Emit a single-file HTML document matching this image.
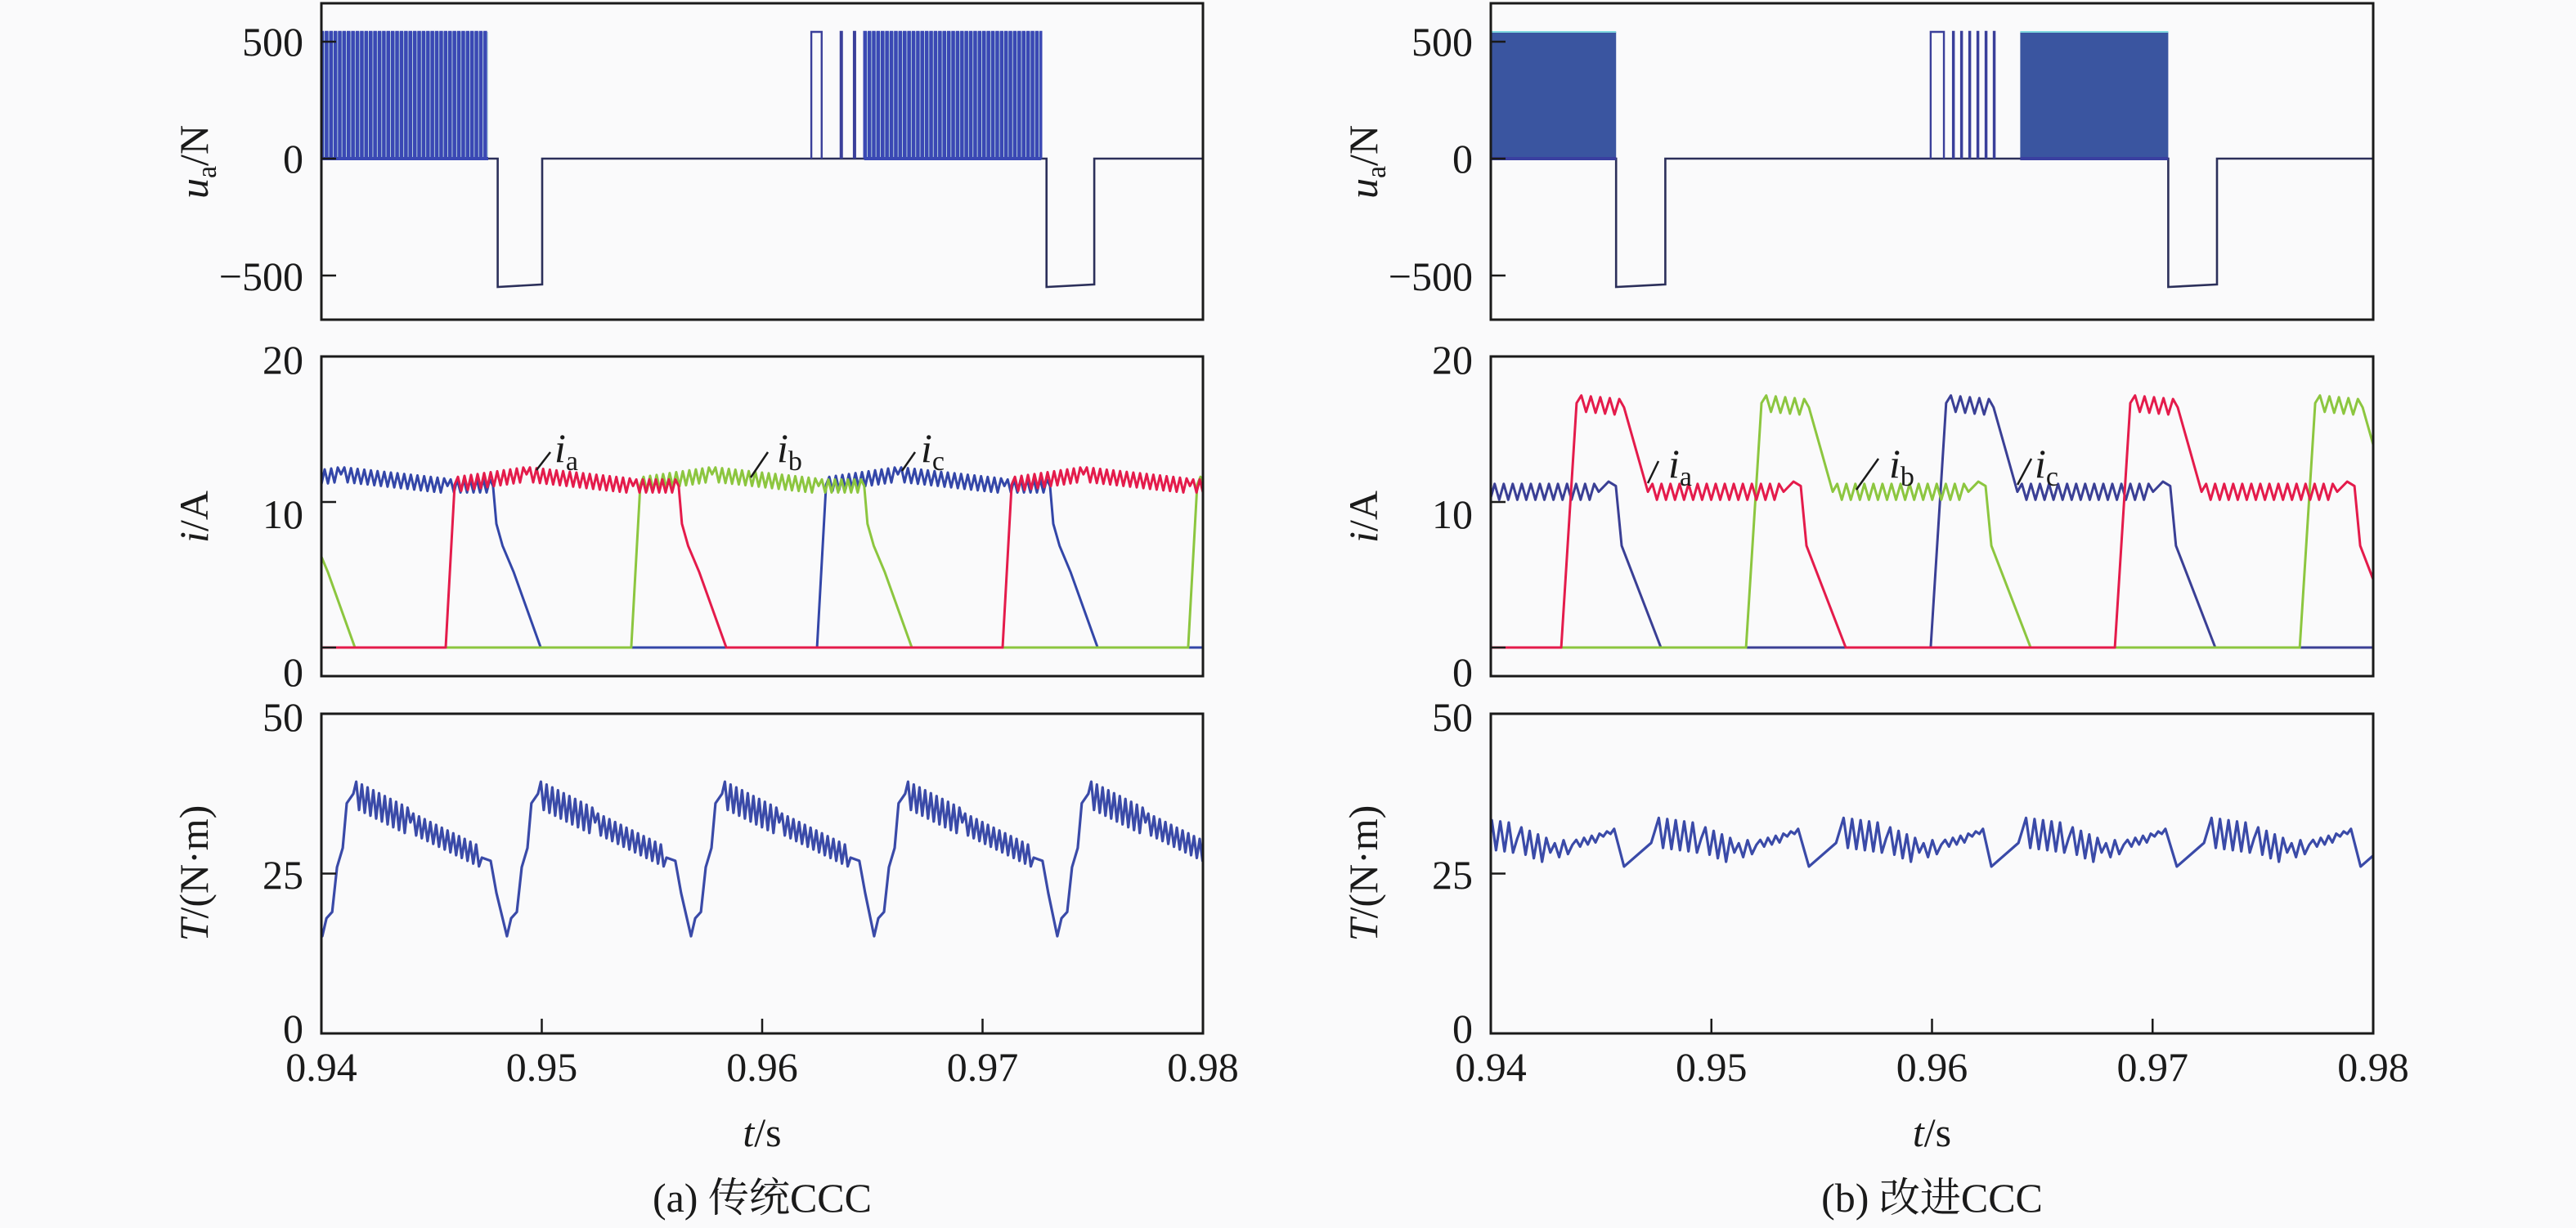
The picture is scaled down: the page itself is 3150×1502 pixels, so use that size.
<!DOCTYPE html>
<html><head><meta charset="utf-8"><style>
html,body{margin:0;padding:0;background:#fafafb;}
svg{display:block;}
text{font-family:"Liberation Serif","Times New Roman","Tinos","Noto Serif CJK SC",serif;}
</style></head><body>
<svg id="fig" width="3150" height="1502" viewBox="0 0 3150 1502" xmlns="http://www.w3.org/2000/svg">
<rect x="0" y="0" width="3150" height="1502" fill="#fafafb"/>
<g id="root"></g>
</svg>
<script>
// ---------------- data ----------------
const xTicks = [0.94, 0.95, 0.96, 0.97, 0.98];
const xTickLabels = ["0.94", "0.95", "0.96", "0.97", "0.98"];
const uTicks = [500, 0, -500];
const uTickLabels = ["500", "0", "\u2212500"];
const iTicks = [20, 10, 0];
const iTickLabels = ["20", "10", "0"];
const tTicks = [50, 25, 0];
const tTickLabels = ["50", "25", "0"];

// voltage u_a, left (traditional CCC)
const uHighL = 542;
const uBurstL = [[0.9400, 0.94757], [0.96463, 0.97266]];
const uPulseL = [[0.96223, 0.96270], [0.96356, 0.96362], [0.96416, 0.96422]];
const uNegL = [[0.94800, 0.95002, -549, -538], [0.97290, 0.97507, -549, -538]];
// voltage u_a, right (improved CCC)
const uHighR = 542;
const uBlockR = [[0.9400, 0.94568], [0.96400, 0.97071]];
const uPulseR = [[0.95994, 0.96054], [0.96095, 0.96099], [0.96132, 0.96136], [0.96169, 0.96173], [0.96206, 0.96210], [0.96243, 0.96247], [0.96280, 0.96284]];
const uNegR = [[0.94568, 0.94791, -549, -538], [0.97071, 0.97292, -549, -538]];

// currents, left
const riseA_L = [0.92037, 0.94564, 0.97091];
const riseB_L = [0.92879, 0.95406, 0.97933];
const riseC_L = [0.91195, 0.93722, 0.96249];
const curShT_L = [0, 0.41, 3.67, 8.5, 10.57, 10.72, 11.0, 11.5, 12.73];
const curShV_L = [0, 11.2, 11.9, 11.1, 11.1, 8.5, 7, 5.2, 0];
const curRip_L = [0, 0.5, 0.5, 0.45, 0, 0, 0, 0];
// currents, right
const riseA_R = [0.91809, 0.94319, 0.96829];
const riseB_R = [0.92647, 0.95157, 0.97667];
const riseC_R = [0.93481, 0.95994, 0.98504];
const curShT_R = [0, 0.70, 2.85, 3.41, 3.93, 10.08, 10.53, 10.86, 11.12, 12.9];
const curShV_R = [0, 16.8, 16.5, 13.5, 10.7, 10.7, 11.4, 11.1, 7, 0];
const curRip_R = [0, 0.55, 0, 0, 0.55, 0, 0, 0, 0];

// torque, left
const tqMin_L = [0.93171, 0.94004, 0.94842, 0.95677, 0.96508, 0.97339, 0.98172];
const tqT_L = [0, 0.19, 0.45, 0.67, 0.93, 1.11, 1.41, 4.0, 7.24, 7.64, 7.9];
const tqV_L = [15.2, 18, 19, 26, 29, 36, 37.5, 33, 27.5, 27, 22];
const tqRip_L = [0, 0, 0, 0, 0, 0, 2.1, 1.6, 0, 0];
// torque, right
const tqMin_R = [0.93770, 0.94604, 0.95442, 0.96269, 0.97110, 0.97943, 0.98778];
const tqT_R = [0, 1.23, 1.38, 3.5, 5.0, 6.0, 7.4, 7.89];
const tqV_R = [26.1, 29.8, 31.5, 30.5, 28.3, 29.5, 30.8, 32];
const tqRip_R = [0, 0, 2.3, 2.0, 1.2, 0.6, 0.4];

// ---------------- layout ----------------
const NS = "http://www.w3.org/2000/svg";
const root = document.getElementById("root");
const PANELS = [
  {side: "left", x0: 393, x1: 1471},
  {side: "right", x0: 1823, x1: 2902}
];
const ROWS = {
  u: {y0: 4, y1: 391, f: v => 194 - v * 0.286},
  i: {y0: 436, y1: 827, f: v => 792 - v * 17.8},
  T: {y0: 873, y1: 1264, f: v => 1264 - v * 7.82}
};
function mk(tag, attrs, parent) {
  const e = document.createElementNS(NS, tag);
  for (const k in attrs) e.setAttribute(k, attrs[k]);
  (parent || root).appendChild(e);
  return e;
}
function sxFn(p) { return t => p.x0 + (t - 0.94) / 0.04 * (p.x1 - p.x0); }
function toPath(pts, sx, sy) {
  return pts.map((q, k) => (k ? "L" : "M") + sx(q[0]).toFixed(1) + " " + sy(q[1]).toFixed(1)).join("");
}
function shapePts(rise, shT, shV, rip, period) {
  const out = [];
  for (let i = 0; i < shT.length - 1; i++) {
    const t0 = rise + shT[i] / 1000, t1 = rise + shT[i + 1] / 1000;
    out.push([t0, shV[i]]);
    const A = rip[i] || 0;
    if (A > 0) {
      const n = Math.max(2, Math.round((t1 - t0) / (period / 2)));
      for (let k = 1; k < n; k++) {
        const fr = k / n;
        const base = shV[i] + (shV[i + 1] - shV[i]) * fr;
        out.push([t0 + (t1 - t0) * fr, base + (k % 2 ? A : -A)]);
      }
    }
  }
  out.push([rise + shT[shT.length - 1] / 1000, shV[shV.length - 1]]);
  return out;
}

PANELS.forEach((p, pi) => {
  const sx = sxFn(p);
  const side = p.side;
  const g = mk("g", {});
  
  
  Object.keys(ROWS).forEach(r => {
    const R = ROWS[r];
    const cp = mk("clipPath", {id: "cp-" + side + "-" + r}, g);
    mk("rect", {x: p.x0, y: R.y0, width: p.x1 - p.x0, height: R.y1 - R.y0}, cp);
  });

  // ---------- voltage ----------
  const R = ROWS.u;
  const gu = mk("g", {"clip-path": "url(#cp-" + side + "-u)"}, g);
  
  
  const uNeg = side === "left" ? uNegL : uNegR;
  const uPulse = side === "left" ? uPulseL : uPulseR;
  const H = side === "left" ? uHighL : uHighR;
  let pts = [[0.939, 0]];
  uNeg.forEach(n => { pts.push([n[0], 0], [n[0], n[2]], [n[1], n[3]], [n[1], 0]); });
  pts.push([0.981, 0]);
  const base = mk("path", {d: toPath(pts, sx, R.f), fill: "none", stroke: "#2b2f5a", "stroke-width": 2.6}, gu);
  
  
  if (side === "left") {
    uBurstL.forEach((b, bi) => {
      let d = "";
      const per = 0.0002;
      for (let t = b[0]; t < b[1]; t += per) {
        const x0 = sx(t), x1 = sx(Math.min(t + per * 0.35, b[1]));
        d += "M" + x0.toFixed(1) + " " + R.f(0) + "L" + x0.toFixed(1) + " " + R.f(H) + "L" + x1.toFixed(1) + " " + R.f(H) + "L" + x1.toFixed(1) + " " + R.f(0);
      }
      const fr = mk("rect", {x: sx(b[0]), y: R.f(H), width: sx(b[1]) - sx(b[0]), height: R.f(0) - R.f(H), fill: "#4a9ab0", "fill-opacity": 0.35}, gu);
      
      
      const bp = mk("path", {d: d, fill: "none", stroke: "#3a48b4", "stroke-width": 2.6}, gu);
      
      
      const zl = mk("line", {x1: sx(b[0]), x2: sx(b[1]), y1: R.f(0), y2: R.f(0), stroke: "#3a48b4", "stroke-width": 4}, gu);
      
      
    });
  } else {
    uBlockR.forEach((b, bi) => {
      const r = mk("rect", {x: sx(b[0]), y: R.f(H), width: sx(b[1]) - sx(b[0]), height: R.f(0) - R.f(H), fill: "#3a55a0"}, gu);
      
      
      mk("line", {x1: sx(b[0]), x2: sx(b[1]), y1: R.f(H), y2: R.f(H), stroke: "#7fd8e0", "stroke-width": 2}, gu);
      mk("line", {x1: sx(b[0]), x2: sx(b[1]), y1: R.f(0), y2: R.f(0), stroke: "#3a3fa0", "stroke-width": 4}, gu);
    });
  }
  uPulse.forEach(q => {
    const d = "M" + sx(q[0]) + " " + R.f(0) + "L" + sx(q[0]) + " " + R.f(H) + "L" + sx(q[1]) + " " + R.f(H) + "L" + sx(q[1]) + " " + R.f(0);
    const pe = mk("path", {d: d, fill: "none", stroke: "#3a3f9a", "stroke-width": 2.4}, gu);
    
    
  });

  // ---------- currents ----------
  const RI = ROWS.i;
  const gi = mk("g", {"clip-path": "url(#cp-" + side + "-i)"}, g);
  
  
  const phases = side === "left"
    ? [["c", riseC_L, "#3346a8"], ["b", riseB_L, "#8cc63f"], ["a", riseA_L, "#e41b4b"]]
    : [["c", riseC_R, "#3a3f95"], ["b", riseB_R, "#8cc63f"], ["a", riseA_R, "#e41b4b"]];
  const shT = side === "left" ? curShT_L : curShT_R;
  const shV = side === "left" ? curShV_L : curShV_R;
  const rip = side === "left" ? curRip_L : curRip_R;
  const rper = side === "left" ? 0.0003 : 0.00041;
  phases.forEach(ph => {
    let pts = [[0.90, 0]];
    ph[1].forEach(rt => { shapePts(rt, shT, shV, rip, rper).forEach(q => pts.push(q)); });
    pts.push([0.99, 0]);
    const pe = mk("path", {d: toPath(pts, sx, RI.f), fill: "none", stroke: ph[2], "stroke-width": 3, "stroke-linejoin": "round"}, gi);
    
    
  });

  // ---------- torque ----------
  const RT = ROWS.T;
  const gt = mk("g", {"clip-path": "url(#cp-" + side + "-T)"}, g);
  
  
  const mins = side === "left" ? tqMin_L : tqMin_R;
  const tT = side === "left" ? tqT_L : tqT_R;
  const tV = side === "left" ? tqV_L : tqV_R;
  const tR = side === "left" ? tqRip_L : tqRip_R;
  const tper = side === "left" ? 0.00026 : 0.00037;
  let tp = [];
  mins.forEach(m => { shapePts(m, tT, tV, tR, tper).forEach(q => tp.push(q)); });
  const tq = mk("path", {d: toPath(tp, sx, RT.f), fill: "none", stroke: "#3a4aa8", "stroke-width": 3.2, "stroke-linejoin": "round"}, gt);
  
  

  // ---------- frames, ticks, labels ----------
  const rowDefs = [
    ["u", uTicks, uTickLabels, [51, 194, 338], "voltage"],
    ["i", iTicks, iTickLabels, [440, 629, 822], "current"],
    ["T", tTicks, tTickLabels, [877, 1070, 1258], "torque"]
  ];
  rowDefs.forEach(rd => {
    const RR = ROWS[rd[0]];
    const fr = mk("rect", {x: p.x0, y: RR.y0, width: p.x1 - p.x0, height: RR.y1 - RR.y0, fill: "none", stroke: "#1a1a1a", "stroke-width": 3}, g);
    
    
    rd[1].forEach((v, k) => {
      const y = RR.f(v);
      if (y > RR.y0 + 3 && y < RR.y1 - 3) {
        const tk = mk("line", {x1: p.x0, x2: p.x0 + 18, y1: y, y2: y, stroke: "#1a1a1a", "stroke-width": 2.5}, g);
        
        
      }
      const lb = mk("text", {x: p.x0 - 22, y: rd[3][k] + 17, "text-anchor": "end", "font-size": 50, fill: "#1a1a1a"}, g);
      lb.textContent = rd[2][k];
      
      
    });
  });
  xTicks.forEach((t, k) => {
    const x = sx(t);
    if (k > 0 && k < xTicks.length - 1) {
      const tk = mk("line", {x1: x, x2: x, y1: ROWS.T.y1, y2: ROWS.T.y1 - 18, stroke: "#1a1a1a", "stroke-width": 2.5}, g);
      
      
    }
    const lb = mk("text", {x: x, y: 1322, "text-anchor": "middle", "font-size": 50, fill: "#1a1a1a"}, g);
    lb.textContent = xTickLabels[k];
    
    
  });
  const cx = (p.x0 + p.x1) / 2;
  const xt = mk("text", {x: cx, y: 1402, "text-anchor": "middle", "font-size": 50, fill: "#1a1a1a"}, g);
  xt.innerHTML = '<tspan font-style="italic">t</tspan>/s';
  
  
  const cap = mk("text", {x: cx, y: 1482, "text-anchor": "middle", "font-size": 50, fill: "#1a1a1a"}, g);
  cap.textContent = side === "left" ? "(a) 传统CCC" : "(b) 改进CCC";
  
  

  const tx = p.x0 - 156;
  const yt = [
    [198, '<tspan font-style="italic">u</tspan><tspan font-size="34" dy="10">a</tspan><tspan dy="-10">/N</tspan>', 'voltage-axis-title'],
    [632, '<tspan font-style="italic">i</tspan>/A', 'current-axis-title'],
    [1068, '<tspan font-style="italic">T</tspan>/(N·m)', 'torque-axis-title']
  ];
  yt.forEach(a => {
    const te = mk("text", {x: tx, y: a[0], "text-anchor": "middle", "font-size": 50, fill: "#1a1a1a", transform: "rotate(-90 " + tx + " " + a[0] + ") translate(0 17)"}, g);
    te.innerHTML = a[1];
    
    
  });

  const ann = side === "left"
    ? [["a", 686, 569, 673, 553, 656, 575], ["b", 958, 569, 939, 553, 918, 584], ["c", 1134, 569, 1119, 553, 1103, 576]]
    : [["a", 2048, 588, 2028, 564, 2015, 591], ["b", 2318, 588, 2297, 561, 2270, 599], ["c", 2496, 588, 2484, 561, 2467, 593]];
  ann.forEach(a => {
    const ln = mk("line", {x1: a[3], y1: a[4], x2: a[5], y2: a[6], stroke: "#1a1a1a", "stroke-width": 2.5}, g);
    
    
    const te = mk("text", {x: a[1] - 8, y: a[2] - 4, "font-size": 50, fill: "#1a1a1a"}, g);
    te.innerHTML = '<tspan font-style="italic">i</tspan><tspan font-size="34" dy="10">' + a[0] + '</tspan>';
    
    
  });
});
</script>
</body></html>
